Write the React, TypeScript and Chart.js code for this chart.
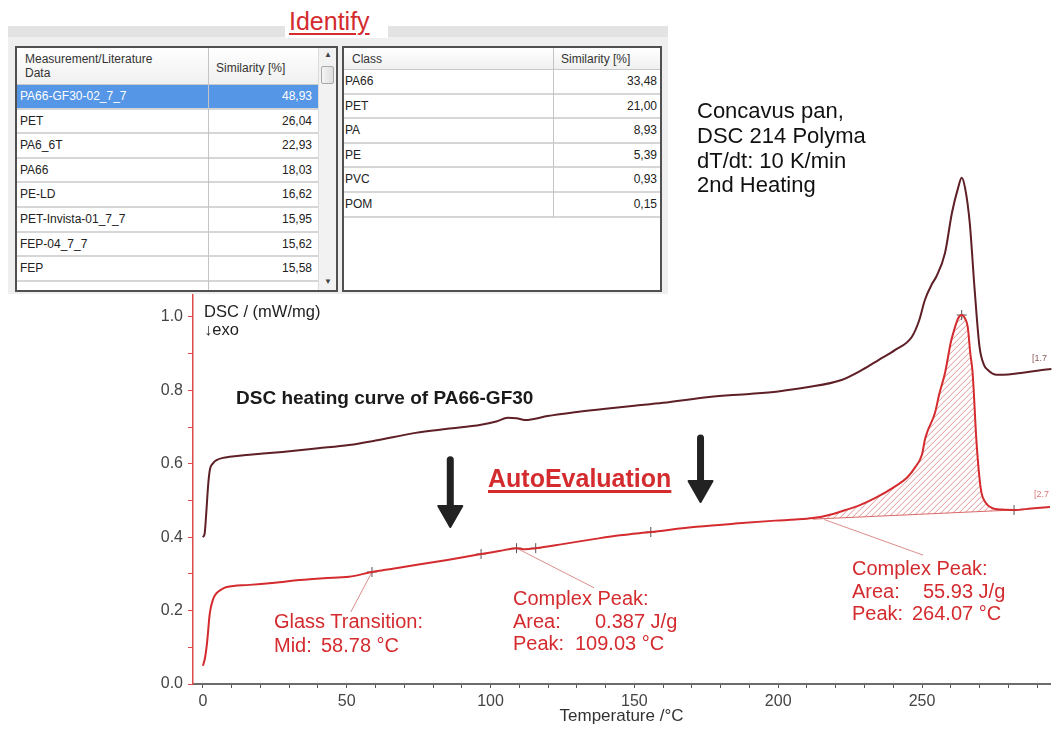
import React, { useEffect, useRef } from 'react';
import { Chart, registerables } from 'chart.js';

Chart.register(...registerables);

// ---------- data ----------
// DSC curve before evaluation (temperature °C, DSC mW/mg)
const upperCurve: [number, number][] = [
  [0, 0.40], [0.6, 0.41], [1.2, 0.47], [1.8, 0.54], [2.4, 0.583], [3.5, 0.601], [4.8, 0.61], [7, 0.616],
  [9.3, 0.619], [15, 0.624], [20, 0.627], [27.6, 0.632], [40, 0.642], [50.8, 0.651], [60, 0.663],
  [73.9, 0.684], [85, 0.695], [96.7, 0.706], [102, 0.715], [106, 0.725], [109, 0.724], [111.9, 0.719],
  [115, 0.722], [119.8, 0.73], [130, 0.741], [140, 0.75], [150, 0.758], [160, 0.766], [176, 0.782],
  [190, 0.79], [200, 0.797], [210, 0.808], [222, 0.828], [229.3, 0.856], [235, 0.883], [240.7, 0.91],
  [246.5, 0.946], [249, 0.99], [251, 1.046], [253.5, 1.09], [255, 1.11], [258, 1.174], [260.4, 1.283],
  [262.5, 1.35], [263.8, 1.379], [265, 1.35], [266.6, 1.256], [268.3, 1.074], [270, 0.918],
  [271.5, 0.87], [272.8, 0.856], [276, 0.842], [280, 0.843], [285, 0.848], [292.5, 0.856], [295, 0.858],
];

// DSC curve with AutoEvaluation
const lowerCurve: [number, number][] = [
  [0, 0.05], [0.7, 0.07], [1.4, 0.11], [2.4, 0.193], [3.5, 0.23], [4.8, 0.248], [6.5, 0.258],
  [8.3, 0.264], [16.2, 0.27], [25, 0.276], [33.5, 0.283], [42, 0.288], [50.8, 0.292], [58.78, 0.305],
  [66, 0.314], [73.9, 0.324], [85, 0.338], [96.7, 0.354], [103, 0.362], [109.03, 0.37], [112, 0.367],
  [115.7, 0.37], [125, 0.381], [137, 0.396], [145, 0.405], [155.7, 0.414], [171.6, 0.428], [185, 0.437],
  [199, 0.445], [206, 0.448], [212, 0.452], [217, 0.459], [223.4, 0.474], [228, 0.486], [233.8, 0.507],
  [240, 0.535], [245, 0.564], [247.6, 0.59], [250, 0.625], [251, 0.665], [252, 0.69], [254.5, 0.738],
  [256, 0.79], [258, 0.847], [260, 0.93], [261.4, 0.97], [262.5, 0.995], [263.8, 1.005], [265, 0.995],
  [265.9, 0.973], [266.8, 0.9], [267.6, 0.847], [268.9, 0.665], [270, 0.56], [270.7, 0.52], [272, 0.495],
  [274.2, 0.48], [278, 0.475], [282, 0.474], [288, 0.478], [294.5, 0.482],
];

const peakBaseline: [number, number][] = [[212, 0.449], [282, 0.474]];
const peakRange: [number, number] = [212, 282];

const evalMarkers: [number, number][] = [
  [58.78, 0.305], [96.7, 0.354], [109.03, 0.37], [115.7, 0.37], [155.7, 0.414], [263.8, 1.005], [282, 0.474],
];

const leaderLines: [number, number][][] = [
  [[58.78, 0.305], [51.4, 0.196]],
  [[109.03, 0.37], [136, 0.262]],
  [[216, 0.448], [250.4, 0.351]],
];

// arrows: [temperature, top value, tip value]
const arrows: [number, number, number][] = [
  [86, 0.619, 0.425],
  [173, 0.678, 0.493],
];

const xRange: [number, number] = [-3.45, 294.5];
const yRange: [number, number] = [0, 1.065];

const libraryNames = ['PA66-GF30-02_7_7', 'PET', 'PA6_6T', 'PA66', 'PE-LD', 'PET-Invista-01_7_7', 'FEP-04_7_7', 'FEP'];
const librarySimilarity = ['48,93', '26,04', '22,93', '18,03', '16,62', '15,95', '15,62', '15,58'];
const classNames = ['PA66', 'PET', 'PA', 'PE', 'PVC', 'POM'];
const classSimilarity = ['33,48', '21,00', '8,93', '5,39', '0,93', '0,15'];

const infoLines = ['Concavus pan,', 'DSC 214 Polyma', 'dT/dt: 10 K/min', '2nd Heating'];

// ---------- helpers ----------
const FONT = '"Liberation Sans", Arial, Helvetica, sans-serif';
const RED = '#d42b2f';
const AREA_INDEX = 3;
const TABLE_FONT = 12;
const toXY = (pts: [number, number][]) => pts.map(([x, y]) => ({ x, y }));

// hatched peak area between the evaluated curve and its baseline
const hatchPlugin = {
  id: 'hatchPlugin',
  beforeDatasetsDraw(chart: any) {
    const meta = chart.getDatasetMeta(AREA_INDEX);
    const line = meta && meta.dataset;
    if (!line || !meta.data.length) return;
    const { ctx, chartArea } = chart;
    const xs = chart.scales.x;
    const ys = chart.scales.y;
    if (line.updateControlPoints) line.updateControlPoints(chartArea, 'x');
    const bx0 = xs.getPixelForValue(peakBaseline[0][0]);
    const by0 = ys.getPixelForValue(peakBaseline[0][1]);
    const bx1 = xs.getPixelForValue(peakBaseline[1][0]);
    const by1 = ys.getPixelForValue(peakBaseline[1][1]);
    ctx.save();
    ctx.beginPath();
    line.path(ctx);
    ctx.lineTo(bx1, by1);
    ctx.lineTo(bx0, by0);
    ctx.closePath();
    ctx.clip();
    let minY = Infinity;
    meta.data.forEach((p: any) => { if (p.y < minY) minY = p.y; });
    const top = minY - 2;
    const bottom = Math.max(by0, by1) + 2;
    const left = bx0 - 2;
    const right = bx1 + 2;
    ctx.strokeStyle = 'rgba(214,120,120,0.8)';
    ctx.lineWidth = 1;
    ctx.beginPath();
    const step = 6;
    for (let c = left + top; c <= right + bottom; c += step) {
      ctx.moveTo(c - bottom, bottom);
      ctx.lineTo(c - top, top);
    }
    ctx.stroke();
    ctx.restore();
  },
};

const arrowPlugin = {
  id: 'arrowPlugin',
  afterDatasetsDraw(chart: any) {
    const { ctx } = chart;
    const xs = chart.scales.x;
    const ys = chart.scales.y;
    ctx.save();
    ctx.fillStyle = '#222';
    ctx.strokeStyle = '#222';
    arrows.forEach(([t, v0, v1]) => {
      const px = xs.getPixelForValue(t);
      const top = ys.getPixelForValue(v0);
      const tip = ys.getPixelForValue(v1);
      const headLen = 22;
      const half = 12;
      ctx.lineWidth = 7;
      ctx.lineCap = 'round';
      ctx.beginPath();
      ctx.moveTo(px, top + 3);
      ctx.lineTo(px, tip - headLen + 2);
      ctx.stroke();
      ctx.lineWidth = 2;
      ctx.lineJoin = 'round';
      ctx.beginPath();
      ctx.moveTo(px - half, tip - headLen);
      ctx.lineTo(px + half, tip - headLen);
      ctx.lineTo(px, tip - 1);
      ctx.closePath();
      ctx.fill();
      ctx.stroke();
    });
    ctx.restore();
  },
};

function Txt(props: { x: number; base: number; size: number; children: any; style?: any }) {
  const { x, base, size, children, style } = props;
  return (
    <div
      style={{
        position: 'absolute',
        left: x,
        top: base - size * 0.846,
        fontSize: size,
        lineHeight: `${size}px`,
        whiteSpace: 'pre',
        fontFamily: FONT,
        ...style,
      }}
    >
      {children}
    </div>
  );
}

function LibraryTable() {
  const rowH = 24.6;
  const headH = 37;
  return (
    <div style={{ position: 'absolute', left: 15, top: 46, width: 323, height: 246, border: '2px solid #505050', boxSizing: 'border-box', background: '#fff', overflow: 'hidden', fontFamily: FONT, fontSize: TABLE_FONT, color: '#222' }}>
      <div style={{ position: 'absolute', left: 0, top: 0, width: 301, height: headH, background: 'linear-gradient(#ffffff,#f0f0f0)', borderBottom: '1px solid #c8c8c8', boxSizing: 'border-box' }} />
      <div style={{ position: 'absolute', left: 8, top: 4, lineHeight: '14px', color: '#333' }}>Measurement/Literature<br />Data</div>
      <div style={{ position: 'absolute', left: 199, top: 13, color: '#333' }}>Similarity [%]</div>
      {[...libraryNames, ''].map((n, i) => {
        const sel = i === 0;
        return (
          <div key={i} style={{ position: 'absolute', left: 0, top: headH + i * rowH, width: 301, height: rowH, background: sel ? '#5596e6' : '#fff', borderBottom: '2px solid #d6d6d6', boxSizing: 'border-box', color: sel ? '#fff' : '#222' }}>
            <div style={{ position: 'absolute', left: 3, top: 4 }}>{n}</div>
            <div style={{ position: 'absolute', right: 6, top: 4 }}>{i < librarySimilarity.length ? librarySimilarity[i] : ''}</div>
          </div>
        );
      })}
      <div style={{ position: 'absolute', left: 191, top: 0, width: 1, height: 250, background: '#c4c4c4' }} />
      <div style={{ position: 'absolute', left: 301, top: 0, width: 18, height: 250, background: '#f2f2f2', borderLeft: '1px solid #dcdcdc' }}>
        <div style={{ position: 'absolute', left: 5, top: 2, fontSize: 8, color: '#444' }}>▲</div>
        <div style={{ position: 'absolute', left: 2, top: 18, width: 13, height: 18, background: 'linear-gradient(90deg,#f4f4f4,#dedede)', border: '1px solid #a8a8a8', borderRadius: 2, boxSizing: 'border-box' }} />
        <div style={{ position: 'absolute', left: 5, top: 229, fontSize: 8, color: '#444' }}>▼</div>
      </div>
    </div>
  );
}

function ClassTable() {
  const rowH = 24.6;
  const headH = 22;
  return (
    <div style={{ position: 'absolute', left: 342, top: 46, width: 320, height: 246, border: '2px solid #505050', boxSizing: 'border-box', background: '#fff', overflow: 'hidden', fontFamily: FONT, fontSize: TABLE_FONT, color: '#222' }}>
      <div style={{ position: 'absolute', left: 0, top: 0, width: 320, height: headH, background: 'linear-gradient(#ffffff,#f0f0f0)', borderBottom: '1px solid #c8c8c8', boxSizing: 'border-box' }} />
      <div style={{ position: 'absolute', left: 8, top: 4, color: '#333' }}>Class</div>
      <div style={{ position: 'absolute', left: 217, top: 4, color: '#333' }}>Similarity [%]</div>
      {classNames.map((n, i) => (
        <div key={i} style={{ position: 'absolute', left: 0, top: headH + i * rowH, width: 320, height: rowH, borderBottom: '2px solid #d6d6d6', boxSizing: 'border-box' }}>
          <div style={{ position: 'absolute', left: 1, top: 4 }}>{n}</div>
          <div style={{ position: 'absolute', right: 7, top: 4 }}>{classSimilarity[i]}</div>
        </div>
      ))}
      <div style={{ position: 'absolute', left: 209, top: 0, width: 1, height: headH + classNames.length * rowH, background: '#c4c4c4' }} />
    </div>
  );
}

export default function App() {
  const canvasRef = useRef<HTMLCanvasElement | null>(null);

  useEffect(() => {
    const canvas = canvasRef.current;
    if (!canvas) return;
    const peakPoints = lowerCurve.filter(([x]) => x >= peakRange[0] && x <= peakRange[1]);

    const chart = new Chart(canvas, {
      type: 'line',
      data: {
        datasets: [
          { label: 'DSC', data: toXY(upperCurve), borderColor: '#5e1f26', borderWidth: 2, pointRadius: 0, cubicInterpolationMode: 'monotone', clip: false, fill: false } as any,
          { label: 'DSC evaluated', data: toXY(lowerCurve), borderColor: RED, borderWidth: 2, pointRadius: 0, cubicInterpolationMode: 'monotone', clip: false, fill: false } as any,
          { label: 'baseline', data: toXY(peakBaseline), borderColor: 'rgba(214,80,80,0.85)', borderWidth: 1, pointRadius: 0, fill: false } as any,
          { label: 'peak area', data: toXY(peakPoints), borderColor: 'rgba(0,0,0,0)', borderWidth: 1, pointRadius: 0, cubicInterpolationMode: 'monotone', fill: false } as any,
          { label: 'markers', data: toXY(evalMarkers), showLine: false, pointStyle: 'cross', pointRadius: 5, pointBorderColor: '#555', pointBorderWidth: 1, borderColor: '#555', fill: false } as any,
          ...leaderLines.map((l, i) => ({ label: 'leader' + i, data: toXY(l), borderColor: 'rgba(214,120,120,0.85)', borderWidth: 1, pointRadius: 0, fill: false } as any)),
        ],
      },
      options: {
        responsive: false,
        animation: false,
        devicePixelRatio: 1,
        layout: { padding: { top: 293, left: 0, right: 0, bottom: 0 } },
        plugins: { legend: { display: false }, tooltip: { enabled: false } },
        scales: {
          x: {
            type: 'linear',
            min: xRange[0],
            max: xRange[1],
            afterFit: (s: any) => { s.height = 45; },
            border: { color: '#6b6b6b', width: 2 },
            grid: { drawOnChartArea: false, tickLength: 4, tickColor: '#555', tickWidth: 1 },
            ticks: {
              stepSize: 10, includeBounds: false, autoSkip: false, maxRotation: 0, padding: 4, color: '#444',
              font: { size: 16, family: FONT },
              callback: (v: any) => (Math.round(v) % 50 === 0 ? String(Math.round(v)) : ''),
            },
            title: { display: true, text: 'Temperature /°C', color: '#333', font: { size: 17, family: FONT }, padding: { top: 2, bottom: 2 } },
          },
          y: {
            min: yRange[0],
            max: yRange[1],
            afterFit: (s: any) => { s.width = 193; },
            border: { color: '#dd4a4a', width: 1.5 },
            grid: { drawOnChartArea: false, tickLength: 5, tickColor: '#dd4a4a' },
            ticks: {
              stepSize: 0.1, includeBounds: false, autoSkip: false, padding: 5, color: '#444',
              font: { size: 16, family: FONT },
              callback: (v: any) => { const k = Math.round(v * 10); return k % 2 === 0 ? (k / 10).toFixed(1) : ''; },
            },
          },
        },
      } as any,
      plugins: [hatchPlugin, arrowPlugin],
    });
    return () => chart.destroy();
  }, []);

  return (
    <div style={{ position: 'absolute', left: 0, top: 0, width: 1056, height: 729, background: '#fff', overflow: 'hidden', fontFamily: FONT }}>
      <canvas ref={canvasRef} width={1056} height={729} style={{ position: 'absolute', left: 0, top: 0, width: 1056, height: 729 }} />

      {/* identify panel */}
      <div style={{ position: 'absolute', left: 8, top: 26, width: 660, height: 268, background: '#efefef' }} />
      <div style={{ position: 'absolute', left: 8, top: 26, width: 277, height: 11, background: '#e3e3e3' }} />
      <div style={{ position: 'absolute', left: 388, top: 26, width: 280, height: 11, background: '#e3e3e3' }} />
      <div style={{ position: 'absolute', left: 285, top: 0, width: 103, height: 38, background: '#fff' }} />
      <LibraryTable />
      <ClassTable />
      <Txt x={289} base={30} size={25} style={{ color: RED, textDecoration: 'underline', textDecorationThickness: '2px', textUnderlineOffset: '3px' }}>Identify</Txt>

      {infoLines.map((l, i) => (
        <Txt key={i} x={697} base={119 + i * 24.7} size={22} style={{ color: '#111' }}>{l}</Txt>
      ))}

      <Txt x={204} base={317} size={16.5} style={{ color: '#222' }}>DSC / (mW/mg)</Txt>
      <Txt x={204} base={335} size={16.5} style={{ color: '#222' }}>↓exo</Txt>
      <Txt x={236} base={404} size={19} style={{ color: '#1a1a1a', fontWeight: 'bold' }}>DSC heating curve of PA66-GF30</Txt>
      <Txt x={488} base={487} size={25} style={{ color: RED, fontWeight: 'bold', textDecoration: 'underline', textDecorationThickness: '3px', textUnderlineOffset: '3px' }}>AutoEvaluation</Txt>

      <Txt x={274} base={628} size={20} style={{ color: RED }}>Glass Transition:</Txt>
      <Txt x={274} base={652} size={20} style={{ color: RED }}>Mid:</Txt>
      <Txt x={321} base={652} size={20} style={{ color: RED }}>58.78 °C</Txt>

      <Txt x={513} base={605} size={20} style={{ color: RED }}>Complex Peak:</Txt>
      <Txt x={513} base={628} size={20} style={{ color: RED }}>Area:</Txt>
      <Txt x={595} base={628} size={20} style={{ color: RED }}>0.387 J/g</Txt>
      <Txt x={513} base={650} size={20} style={{ color: RED }}>Peak:</Txt>
      <Txt x={575} base={650} size={20} style={{ color: RED }}>109.03 °C</Txt>

      <Txt x={852} base={575} size={20} style={{ color: RED }}>Complex Peak:</Txt>
      <Txt x={852} base={598} size={20} style={{ color: RED }}>Area:</Txt>
      <Txt x={923} base={598} size={20} style={{ color: RED }}>55.93 J/g</Txt>
      <Txt x={852} base={620} size={20} style={{ color: RED }}>Peak:</Txt>
      <Txt x={912} base={620} size={20} style={{ color: RED }}>264.07 °C</Txt>

      <Txt x={1032} base={362} size={9} style={{ color: '#8a5a5a' }}>[1.7</Txt>
      <Txt x={1034} base={498} size={9} style={{ color: '#d77' }}>[2.7</Txt>
    </div>
  );
}
